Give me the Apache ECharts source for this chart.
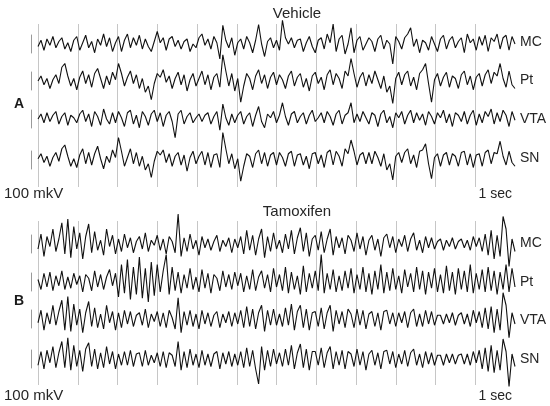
<!DOCTYPE html>
<html>
<head>
<meta charset="utf-8">
<script src="https://cdn.jsdelivr.net/npm/echarts@6/dist/echarts.min.js"></script>
<style>
html,body{margin:0;padding:0;background:#fff;}
#chart{width:550px;height:406px;}
</style>
</head>
<body>
<div id="chart"></div>
<script>
// ---- data ----
const conditions = ['Vehicle', 'Tamoxifen'];
const panelLetters = ['A', 'B'];
const channels = ['MC', 'Pt', 'VTA', 'SN'];
const ampLabel = '100 mkV';
const timeLabel = '1 sec';
const sampleStep = 0.0075;      // seconds per sample
const gridInterval = 0.1;       // seconds between vertical grid lines
const sweepLength = 1.2;        // seconds

const vehicleMC = [
 -10,15,-25,20,-5,30,-15,10,25,-20,5,-30,15,30,
 -25,5,35,-15,10,-35,20,-5,40,-10,25,-30,5,
 30,-30,15,40,-15,25,-5,35,-20,20,-10,-30,10,50,
 5,25,-25,20,30,-10,15,-20,10,20,-30,0,-15,
 25,40,-5,20,-20,30,5,-60,75,15,-15,25,-45,5,
 20,-20,30,5,-35,15,78,0,-50,10,25,-15,15,
 -25,95,25,0,25,-15,15,20,-30,5,30,-10,-35,15,
 25,-20,40,5,80,-30,20,35,-40,0,65,-35,15,
 30,-25,0,25,10,-30,20,35,-20,15,0,-80,30,10,
 -20,25,40,65,-10,20,-35,15,5,-25,30,0,-30,
 20,35,-20,15,30,-15,10,25,-35,40,5,20,-25,
 30,-5,35,-30,25,10,40,-20,25,35,-25,30,0
];
const vehiclePt = [
 0,20,-15,10,-30,5,25,-10,55,70,20,-20,10,-35,
 15,40,-10,25,-25,30,50,10,-30,20,-15,35,5,
 70,30,-20,15,40,-10,25,-30,10,-45,-20,-75,-10,30,
 15,45,-5,20,-30,10,35,-15,25,-40,5,30,-20,
 10,40,-15,25,-35,15,30,-25,105,40,-20,30,-40,10,
 -85,-20,30,10,-35,20,45,-10,25,-30,15,35,-15,
 25,5,-30,20,40,-20,15,30,-25,10,-40,20,35,-10,
 15,-35,25,45,-15,30,10,-30,40,20,90,30,-25,
 15,35,-20,25,-10,40,5,-30,20,-45,-20,-90,10,35,
 -15,25,40,-20,15,-35,30,45,70,-10,-85,5,30,
 -20,15,35,-25,20,10,-30,25,40,-15,20,-35,15,
 30,-20,25,45,-10,35,20,70,10,-25,40,-15,-30
];
const vehicleVTA = [
 0,20,-15,25,-10,15,30,-20,10,25,-25,15,5,-15,
 20,35,-10,20,-30,30,10,-25,40,0,-20,25,-15,
 30,5,-30,25,35,-20,15,-35,30,10,-25,20,35,-10,
 25,-30,15,30,-10,-75,20,35,-20,10,25,-15,5,
 20,-10,15,25,-20,10,30,-45,60,5,-25,20,-15,15,
 30,-20,10,25,-30,15,50,-10,-35,20,5,30,-15,
 15,65,10,-25,20,30,-15,10,25,-20,15,35,-10,5,
 25,-15,30,10,-25,20,35,-20,15,25,65,-15,20,
 -10,30,5,-20,25,15,-30,20,35,-15,10,-35,25,5,
 30,-20,15,35,-15,25,-5,20,-25,30,10,-20,25,
 5,35,-15,20,-30,25,15,-10,30,-20,15,35,-25,
 20,-15,30,10,40,-20,25,-10,35,15,-30,30,-5
];
const vehicleSN = [
 5,25,-10,15,-25,10,30,-5,45,60,15,-25,5,-30,
 20,45,-15,30,-20,25,55,5,-35,15,-10,40,10,
 90,35,-25,10,45,-15,30,-25,15,-40,-15,-70,-5,35,
 20,40,-10,25,-25,15,30,-20,20,-45,10,35,-15,
 15,35,-20,30,-30,20,25,-30,110,45,-15,25,-35,5,
 -85,-25,25,15,-30,25,40,-15,30,-25,20,30,-20,
 30,10,-25,25,35,-25,20,25,-20,15,-35,25,30,-15,
 20,-30,30,40,-20,35,15,-25,45,25,80,35,-20,
 20,30,-15,30,-15,35,10,-25,25,-40,-15,-80,15,30,
 -10,30,45,-15,20,-30,35,40,65,-15,-75,10,25,
 -25,20,30,-20,25,15,-25,30,35,-20,25,-30,20,
 25,-25,30,40,-15,30,25,75,15,-20,35,-10,-25
];
const tamoxifenMC = [
 -20,40,-50,30,-10,60,-30,20,85,-40,100,-55,70,-20,
 45,-60,30,80,-35,50,-25,15,-45,60,-10,35,-40,
 20,-30,40,-15,25,-35,10,30,-20,45,-30,15,-5,35,
 -25,20,-40,30,10,-35,120,-50,25,-30,40,-20,15,
 -45,30,-15,20,-25,10,35,-30,15,-10,25,-35,20,-15,
 30,-40,55,-25,35,-45,20,60,-55,30,-30,45,-20,
 15,-35,40,-20,55,-40,25,65,-30,45,-50,20,35,-25,
 50,-35,20,60,-45,30,-15,25,-40,35,15,-30,45,
 -20,30,-45,15,35,-25,20,-50,25,40,-15,30,-35,20,
 -10,35,-30,20,45,-25,15,-35,30,-15,25,-20,10,
 20,-25,15,-10,25,-20,10,20,-15,15,-25,30,-10,
 25,-30,40,-45,55,-60,35,-50,110,60,-90,20,-30
];
const tamoxifenPt = [
 10,-30,35,-20,40,-35,25,-15,45,-30,20,-25,35,-10,
 25,-40,30,15,-35,45,-20,30,-30,20,50,-15,35,
 -60,70,-45,90,-70,60,-50,100,-65,55,-80,80,-55,70,
 -40,45,110,-50,60,-35,40,-45,30,-25,55,-30,20,
 -40,50,-25,35,-45,30,15,-35,45,-20,30,-30,40,-15,
 35,-40,25,-30,50,-35,20,45,-25,30,-40,55,-20,
 30,-35,60,-45,40,-30,25,-50,65,-40,35,-25,45,-35,
 110,-45,35,-30,50,-40,25,-35,45,-25,55,-45,30,
 -30,60,-40,35,-50,45,-30,70,-45,40,-35,55,-30,25,
 -45,50,-20,35,-40,60,-30,45,-50,40,-25,55,-40,
 30,-45,65,-35,40,-50,55,-30,45,-40,70,-45,35,
 -30,50,-40,60,-35,45,-50,40,-30,70,-40,55,-20
];
const tamoxifenVTA = [
 -15,35,-45,25,-20,55,-25,30,75,-45,90,-50,60,-25,
 40,-55,25,70,-30,45,-35,20,-40,55,-15,30,-45,
 25,-35,35,-20,30,-30,15,25,-25,40,-35,20,-10,30,
 -30,25,-35,35,5,-40,85,-55,30,-25,35,-30,20,
 -40,35,-20,25,-30,15,30,-35,20,-15,30,-30,25,-20,
 35,-35,50,-30,40,-40,25,55,-50,35,-25,40,-25,
 20,-30,45,-25,60,-45,30,55,-35,40,-45,25,30,-30,
 45,-40,25,55,-50,35,-20,30,-35,40,20,-35,40,
 -25,35,-40,20,30,-30,25,-45,30,35,-20,25,-30,25,
 -15,30,-35,25,40,-30,20,-30,35,-20,30,-25,15,
 15,-20,20,-15,25,-25,15,25,-20,20,-30,35,-15,
 30,-35,45,-40,50,-55,40,-45,105,55,-75,25,-20
];
const tamoxifenSN = [
 -25,30,-40,35,-15,50,-35,25,70,-35,85,-45,55,-30,
 35,-50,40,65,-30,40,-40,25,-35,50,-20,30,-40,
 20,-25,30,-25,35,-30,20,25,-30,35,-25,15,-15,25,
 -30,30,-35,25,15,-30,70,-45,30,-35,40,-25,20,
 -35,35,-25,20,-30,20,30,-40,25,-20,30,-30,20,-25,
 30,-35,45,-30,35,-40,-100,50,-45,35,-30,40,-20,
 25,-30,40,-25,55,-40,25,60,-35,40,-45,30,30,-25,
 45,-35,25,50,-40,30,-25,35,-40,30,20,-30,40,
 -25,30,-45,20,35,-25,25,-40,30,35,-20,30,-35,20,
 -20,35,-30,25,40,-25,20,-35,30,-20,25,-25,15,
 15,-25,20,-15,20,-20,15,20,-20,20,-25,30,-15,
 35,-40,45,-50,55,-55,35,-45,80,30,-110,20,-30
];
const traces = [
  [vehicleMC, vehiclePt, vehicleVTA, vehicleSN],
  [tamoxifenMC, tamoxifenPt, tamoxifenVTA, tamoxifenSN]
];

// ---- layout (pixels) ----
const plotLeft = 38, plotRight = 35;
const panels = [
  { gridTop: 24, gridBottom: 187, titleY: 14, letterY: 104, footY: 194,
    centers: [44, 81, 119, 160], labelY: [43, 81, 120, 159] },
  { gridTop: 221, gridBottom: 385, titleY: 212, letterY: 301, footY: 396,
    centers: [244, 282, 319, 359], labelY: [244, 283, 321, 360] }
];
const barHalf = 9;            // half height of the calibration bar (px)
const yHalfRange = 36;        // amplitude units covered by half the bar
const FONT = '"Liberation Sans", Arial, Helvetica, sans-serif';
const TRACE_COLOR = '#111111';

const grid = [], xAxis = [], yAxis = [], series = [], graphic = [];
function toPoints(arr) { return arr.map((v, i) => [+(i * sampleStep).toFixed(4), v]); }

panels.forEach((p, pi) => {
  // background grid with vertical split lines
  const gi = grid.length;
  grid.push({ left: plotLeft, right: plotRight, top: p.gridTop, height: p.gridBottom - p.gridTop });
  xAxis.push({ gridIndex: gi, type: 'value', min: 0, max: sweepLength, interval: gridInterval,
    axisLine: { show: false }, axisTick: { show: false }, axisLabel: { show: false },
    splitLine: { show: true, showMinLine: true, showMaxLine: false, lineStyle: { color: '#c6c6c6', width: 1 } } });
  yAxis.push({ gridIndex: gi, type: 'value', show: false, splitLine: { show: false } });

  channels.forEach((ch, ci) => {
    const g = grid.length;
    const c = p.centers[ci];
    grid.push({ left: plotLeft, right: plotRight, top: c - barHalf, height: barHalf * 2 });
    xAxis.push({ gridIndex: g, type: 'value', min: 0, max: sweepLength, show: false, splitLine: { show: false } });
    yAxis.push({ gridIndex: g, type: 'value', min: -yHalfRange, max: yHalfRange, offset: 7, position: 'left',
      axisLine: { show: true, onZero: false, lineStyle: { color: '#9a9a9a', width: 1 } },
      axisTick: { show: false }, axisLabel: { show: false }, splitLine: { show: false } });
    series.push({ type: 'line', xAxisIndex: g, yAxisIndex: g, data: toPoints(traces[pi][ci]),
      showSymbol: false, clip: false, silent: true,
      lineStyle: { color: TRACE_COLOR, width: 1.1 } });
    graphic.push({ type: 'text', left: 520, top: p.labelY[ci] - 8,
      style: { text: ch, font: '14px ' + FONT, fill: '#262626' } });
  });

  graphic.push({ type: 'text', x: 297, y: p.titleY,
    style: { text: conditions[pi], font: '15px ' + FONT, fill: '#262626', align: 'center', verticalAlign: 'middle' } });
  graphic.push({ type: 'text', x: 19, y: p.letterY,
    style: { text: panelLetters[pi], font: 'bold 14px ' + FONT, fill: '#1a1a1a', align: 'center', verticalAlign: 'middle' } });
  graphic.push({ type: 'text', x: 4, y: p.footY,
    style: { text: ampLabel, font: '15px ' + FONT, fill: '#262626', align: 'left', verticalAlign: 'middle' } });
  graphic.push({ type: 'text', x: 512, y: p.footY,
    style: { text: timeLabel, font: '14px ' + FONT, fill: '#262626', align: 'right', verticalAlign: 'middle' } });
});

const chart = echarts.init(document.getElementById('chart'), null, { renderer: 'canvas' });
chart.setOption({
  animation: false,
  backgroundColor: '#ffffff',
  grid, xAxis, yAxis, series, graphic
});
</script>
</body>
</html>
